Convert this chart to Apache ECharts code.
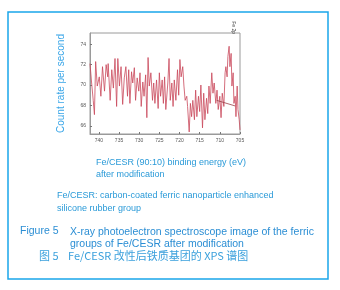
<!DOCTYPE html>
<html>
<head>
<meta charset="utf-8">
<script src="https://cdn.jsdelivr.net/npm/echarts@6/dist/echarts.min.js"></script>
<style>
html, body { margin: 0; padding: 0; background: #fff; }
#chart { width: 340px; height: 290px; }
</style>
</head>
<body>
<div id="chart"></div>
<script>
// binding energy (eV) left to right
var energy = [742.2,741.8,741.4,741.1,740.8,740.4,739.9,739.5,739.1,738.6,738.2,737.8,737.7,737.2,736.8,736.4,736.0,735.6,735.3,734.9,
	734.5,734.1,733.7,733.3,732.9,732.6,732.3,731.9,731.6,731.2,730.9,730.5,730.1,729.8,729.5,729.1,728.8,728.4,728.1,727.8,
	727.5,727.1,726.7,726.4,726.1,725.7,725.3,725.0,724.7,724.3,724.0,723.7,723.4,722.9,722.6,722.3,721.9,721.6,721.3,720.9,
	720.5,720.2,719.9,719.6,719.2,718.9,718.6,718.2,718.0,717.6,717.3,717.0,716.7,716.3,716.0,715.7,715.3,715.0,714.7,714.3,
	714.0,713.7,713.3,713.0,712.7,712.4,712.0,711.7,711.4,711.0,710.7,710.4,710.0,709.7,709.4,709.0,708.7,708.5,708.2,708.0,
	707.7,707.5,707.2,707.0,706.7,706.5,706.2,706.0,705.7,705.5,705.2,705.0];
var counts = [72.1,70.2,68.5,67.1,72.3,69.9,70.8,68.9,71.8,69.4,72.0,70.8,72.1,68.5,71.5,69.7,72.6,67.9,72.6,69.9,
	71.8,68.1,70.7,71.8,68.9,71.5,68.2,71.3,70.2,71.7,68.5,70.7,69.4,71.2,67.9,70.3,68.9,71.0,66.8,72.7,
	69.9,71.2,68.5,70.2,68.2,70.5,67.7,71.2,68.9,70.5,68.2,70.8,67.6,70.2,72.6,68.5,70.2,67.9,70.5,68.5,
	71.5,69.0,72.5,70.8,71.8,69.9,68.5,68.9,67.9,65.4,68.2,66.9,68.5,66.6,69.5,66.9,68.9,67.4,70.0,65.8,
	69.2,66.6,68.7,67.2,69.9,68.2,71.2,69.2,70.2,68.2,69.5,67.6,68.9,66.8,69.2,67.9,71.2,71.8,70.8,72.8,
	73.8,71.8,73.1,69.9,71.2,68.2,68.9,66.9,69.9,67.6,66.6,65.6];
// fitted background under the Fe 2p peak
var baseX = [710.8, 706.2];
var baseY = [68.5, 67.95];

var xTicks = [740, 735, 730, 725, 720, 715, 710, 705];
var yTicks = [66, 68, 70, 72, 74];

var chart = echarts.init(document.getElementById("chart"));

var spectrum = energy.map(function (e, i) { return [e, counts[i]]; });
var baseline = baseX.map(function (e, i) { return [e, baseY[i]]; });

var blue = '#2a9ad8';

var option = {
	animation: false,
	grid: {
		left: 90,
		right: 100,
		top: 33,
		bottom: 156,
		show: true,
		borderColor: '#9a9a9a',
		borderWidth: 1
	},
	xAxis: {
		type: 'value',
		inverse: true,
		min: 705,
		max: 742.2,
		splitLine: { show: false },
		axisLine: { lineStyle: { color: '#9a9a9a' } },
		axisTick: { show: true, inside: true, length: 2, customValues: xTicks, lineStyle: { color: '#777' } },
		axisLabel: { fontSize: 5, color: '#555', margin: 4, customValues: xTicks }
	},
	yAxis: {
		type: 'value',
		min: 65.2,
		max: 75.1,
		name: 'Count rate per second',
		nameLocation: 'middle',
		nameGap: 24,
		nameTextStyle: { color: '#3aa6e8', fontSize: 10, fontFamily: 'Liberation Sans' },
		splitLine: { show: false },
		axisLine: { lineStyle: { color: '#9a9a9a' } },
		axisTick: { show: true, inside: true, length: 2, customValues: yTicks, lineStyle: { color: '#777' } },
		axisLabel: { fontSize: 5, color: '#555', margin: 4, customValues: yTicks }
	},
	series: [
		{
			name: 'Fe 2p',
			type: 'line',
			data: spectrum,
			symbol: 'none',
			lineStyle: { color: '#c9475a', width: 0.8 }
		},
		{
			name: 'background',
			type: 'line',
			data: baseline,
			symbol: 'none',
			lineStyle: { color: '#9a4048', width: 0.8 }
		}
	],
	graphic: [
		{
			type: 'rect',
			shape: { x: 8, y: 12, width: 320, height: 267 },
			style: { fill: 'none', stroke: '#1aa6ea', lineWidth: 1.5 }
		},
		{
			type: 'text', x: 233, y: 34, rotation: -Math.PI / 2,
			style: { text: 'Fe 2p', fontSize: 5, fill: '#444', textAlign: 'right', textVerticalAlign: 'middle' }
		},
		{
			type: 'text', left: 96, top: 157,
			style: { text: 'Fe/CESR (90:10) binding energy (eV)\nafter modification', fontSize: 9, lineHeight: 12, fill: blue, fontFamily: 'Liberation Sans' }
		},
		{
			type: 'text', left: 57, top: 189,
			style: { text: 'Fe/CESR: carbon-coated ferric nanoparticle enhanced\nsilicone rubber group', fontSize: 9, lineHeight: 13, fill: blue, fontFamily: 'Liberation Sans' }
		},
		{
			type: 'text', left: 20, top: 226,
			style: { text: 'Figure 5', fontSize: 10.5, fill: '#2b8ed4', fontFamily: 'Liberation Sans' }
		},
		{
			type: 'text', left: 70, top: 226,
			style: { text: 'X-ray photoelectron spectroscope image of the ferric\ngroups of Fe/CESR after modification', fontSize: 10.5, lineHeight: 12, fill: '#2b8ed4', fontFamily: 'Liberation Sans' }
		},
		{
			type: 'text', left: 39, top: 250,
			style: { text: '图 5', fontSize: 11, fill: '#3aa0dc', fontFamily: 'Noto Sans CJK SC' }
		},
		{
			type: 'text', left: 68, top: 250,
			style: { text: 'Fe/CESR 改性后铁质基团的 XPS 谱图', fontSize: 11, fill: '#3aa0dc', fontFamily: 'Noto Sans CJK SC' }
		}
	]
};
chart.setOption(option);
</script>
</body>
</html>
